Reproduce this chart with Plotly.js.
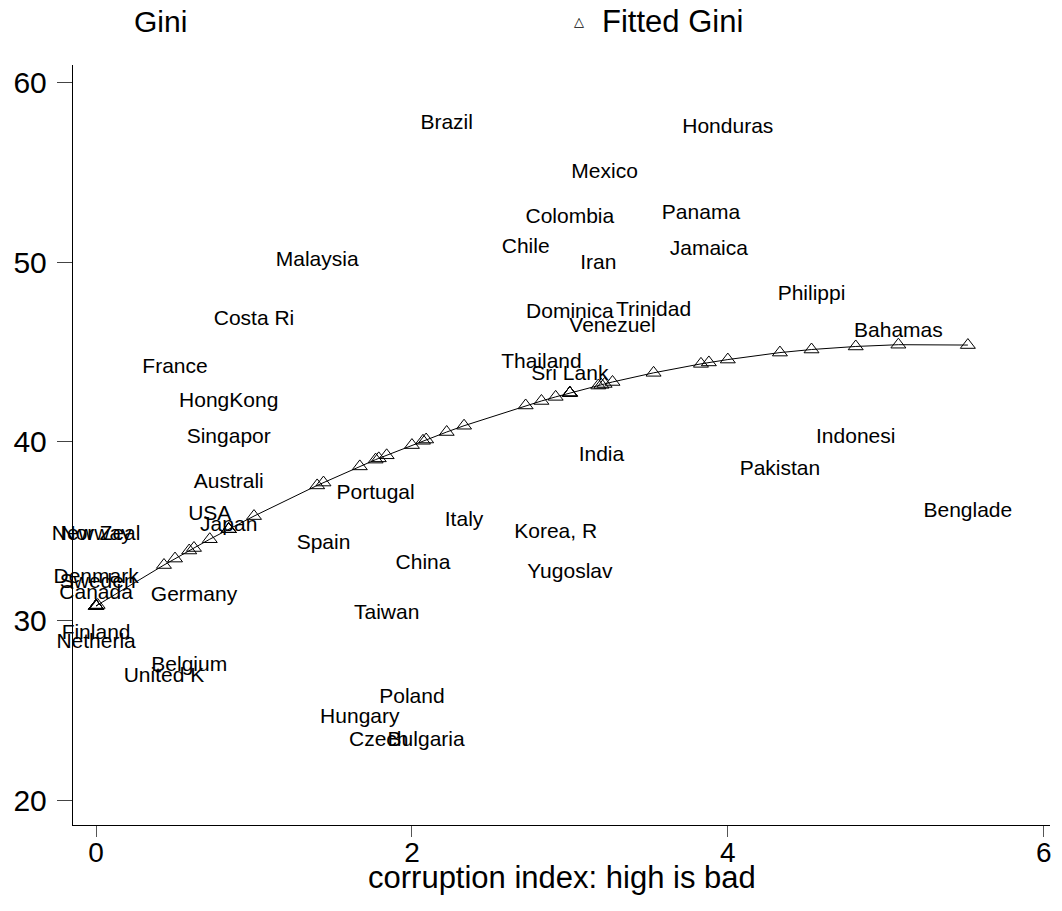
<!DOCTYPE html>
<html>
<head>
<meta charset="utf-8">
<script src="https://cdn.plot.ly/plotly-3.0.1.min.js"></script>
<style>
  html, body { margin: 0; padding: 0; background: #fff; }
  #chart { width: 1062px; height: 911px; }
</style>
</head>
<body>
<div id="chart"></div>
<script>
// Country labels (as shown in the chart)
const countries = [
  "Denmark", "Sweden", "Canada", "New Zeal", "Norway", "Finland", "Netherla",
  "United K", "France", "Belgium", "Germany", "USA", "Japan", "Australi",
  "Singapor", "HongKong", "Costa Ri", "Malaysia", "Spain", "Hungary",
  "Portugal", "Czech", "Taiwan", "Poland", "China", "Bulgaria", "Brazil",
  "Italy", "Chile", "Thailand", "Korea, R", "Colombia", "Dominica",
  "Sri Lank", "Yugoslav", "Iran", "India", "Mexico", "Venezuel", "Trinidad",
  "Panama", "Jamaica", "Honduras", "Pakistan", "Philippi", "Indonesi",
  "Bahamas", "Benglade"
];

// corruption index: high is bad
const corruption = [
  0.00, 0.01, 0.00, 0.00, 0.00, 0.00, 0.00,
  0.43, 0.50, 0.59, 0.62, 0.72, 0.84, 0.84,
  0.84, 0.84, 1.00, 1.40, 1.44, 1.67,
  1.77, 1.79, 1.84, 2.00, 2.07, 2.09, 2.22,
  2.33, 2.72, 2.82, 2.91, 3.00, 3.00,
  3.00, 3.00, 3.18, 3.20, 3.22, 3.27, 3.53,
  3.83, 3.88, 4.00, 4.33, 4.53, 4.81,
  5.08, 5.52
];

// Gini
const gini = [
  32.4, 32.1, 31.5, 34.8, 34.8, 29.3, 28.8,
  26.9, 44.1, 27.5, 31.4, 35.9, 35.3, 37.7,
  40.2, 42.2, 46.8, 50.1, 34.3, 24.6,
  37.1, 23.3, 30.4, 25.7, 33.2, 23.3, 57.7,
  35.6, 50.8, 44.4, 34.9, 52.5, 47.2,
  43.7, 32.7, 49.9, 39.2, 55.0, 46.4, 47.3,
  52.7, 50.7, 57.5, 38.4, 48.2, 40.2,
  46.1, 36.1
];

// Fitted Gini
const fitted = [
  30.83, 30.88, 30.83, 30.83, 30.83, 30.83, 30.83,
  33.11, 33.47, 33.92, 34.06, 34.55, 35.11, 35.11,
  35.11, 35.11, 35.84, 37.55, 37.71, 38.61,
  38.99, 39.06, 39.23, 39.80, 40.04, 40.11, 40.53,
  40.88, 42.01, 42.26, 42.49, 42.71, 42.71,
  42.71, 42.71, 43.12, 43.16, 43.21, 43.32, 43.83,
  44.33, 44.41, 44.57, 44.96, 45.13, 45.30,
  45.40, 45.38
];

const xTicks = [0, 2, 4, 6];
const yTicks = [20, 30, 40, 50, 60];

const FONT = "Liberation Sans, Arial, Helvetica, sans-serif";

const traces = [
  {
    type: "scatter",
    mode: "text",
    x: corruption,
    y: gini,
    text: countries,
    textposition: "middle center",
    textfont: { family: FONT, size: 21, color: "#000" },
    hoverinfo: "skip",
    showlegend: false,
    cliponaxis: false
  },
  {
    type: "scatter",
    mode: "lines+markers",
    x: corruption,
    y: fitted,
    line: { color: "#000", width: 1 },
    marker: { symbol: "triangle-up-open", size: 13, color: "#000", line: { color: "#000", width: 1 } },
    hoverinfo: "skip",
    showlegend: false,
    cliponaxis: false
  }
];

const layout = {
  width: 1062,
  height: 911,
  margin: { l: 73, r: 12, t: 65, b: 86 },
  paper_bgcolor: "#fff",
  plot_bgcolor: "#fff",
  showlegend: false,
  hovermode: false,
  font: { family: FONT, color: "#000" },
  xaxis: {
    range: [-0.146, 6.04],
    tickvals: xTicks,
    ticktext: xTicks.map(String),
    ticks: "outside",
    ticklen: 11,
    tickwidth: 1,
    tickcolor: "#555",
    ticklabelstandoff: -9,
    showgrid: false,
    zeroline: false,
    showline: true,
    linecolor: "#000",
    linewidth: 1.2,
    tickfont: { family: FONT, size: 28, color: "#000" }
  },
  yaxis: {
    range: [18.61, 61.0],
    tickvals: yTicks,
    ticktext: yTicks.map(String),
    ticks: "outside",
    ticklen: 15,
    tickwidth: 1,
    tickcolor: "#444",
    ticklabelstandoff: 4,
    showgrid: false,
    zeroline: false,
    showline: true,
    linecolor: "#000",
    linewidth: 1.2,
    tickfont: { family: FONT, size: 30, color: "#000" }
  },
  annotations: [
    {
      xref: "paper", yref: "paper", x: 0.0604, y: 1.0566,
      xanchor: "left", yanchor: "middle",
      text: "Gini", showarrow: false,
      font: { family: FONT, size: 30, color: "#000" }
    },
    {
      xref: "paper", yref: "paper", x: 0.518, y: 1.0566,
      xanchor: "center", yanchor: "middle",
      text: "\u25B3", showarrow: false,
      font: { family: "DejaVu Sans, sans-serif", size: 13, color: "#000" }
    },
    {
      xref: "paper", yref: "paper", x: 0.539, y: 1.0566,
      xanchor: "left", yanchor: "middle",
      text: "Fitted Gini", showarrow: false,
      font: { family: FONT, size: 31, color: "#000" }
    },
    {
      xref: "paper", yref: "paper", x: 0.5, y: -0.0697,
      xanchor: "center", yanchor: "middle",
      text: "corruption index: high is bad", showarrow: false,
      font: { family: FONT, size: 31, color: "#000" }
    }
  ]
};

Plotly.newPlot("chart", traces, layout, { displayModeBar: false, staticPlot: true });
</script>
</body>
</html>
